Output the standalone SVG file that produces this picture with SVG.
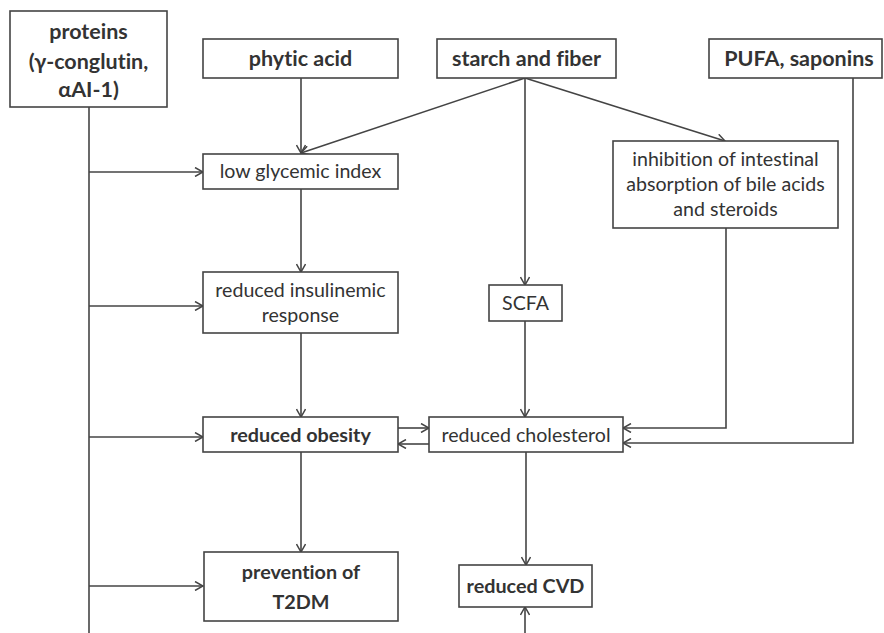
<svg xmlns="http://www.w3.org/2000/svg" width="884" height="633" viewBox="0 0 884 633">
<style>
.box{fill:#fff;stroke:#444;stroke-width:1.6}
.t{font-family:Lato,"Liberation Sans",sans-serif;font-size:19.6px;fill:#333;text-anchor:middle;font-variant-ligatures:none}
.b{font-weight:bold;font-size:21.5px}
.b2{font-weight:bold;font-size:19.8px}
.c{fill:none;stroke:#444;stroke-width:1.6}
</style>
<defs>
<marker id="ah" viewBox="0 0 10 10" refX="9" refY="5" markerWidth="10" markerHeight="10" markerUnits="userSpaceOnUse" orient="auto">
<path d="M1,0.5 L9,5 L1,9.5" fill="none" stroke="#444" stroke-width="1.5"/>
</marker>
</defs>
<rect width="884" height="633" fill="#fff"/>
<g id="connectors">
<path class="c" d="M89,107 V633"/>
<path class="c" d="M89,172 H203" marker-end="url(#ah)"/>
<path class="c" d="M89,306 H203" marker-end="url(#ah)"/>
<path class="c" d="M89,437 H203" marker-end="url(#ah)"/>
<path class="c" d="M89,586 H203" marker-end="url(#ah)"/>
<path class="c" d="M301,78 V153" marker-end="url(#ah)"/>
<path class="c" d="M525,78 L301,153" marker-end="url(#ah)"/>
<path class="c" d="M525,78 V285" marker-end="url(#ah)"/>
<path class="c" d="M525,78 L725,141" marker-end="url(#ah)"/>
<path class="c" d="M301,189 V272" marker-end="url(#ah)"/>
<path class="c" d="M301,333 V417" marker-end="url(#ah)"/>
<path class="c" d="M301,452 V552" marker-end="url(#ah)"/>
<path class="c" d="M525,321 V417" marker-end="url(#ah)"/>
<path class="c" d="M726,228 V428 H623" marker-end="url(#ah)"/>
<path class="c" d="M853,78 V443 H623" marker-end="url(#ah)"/>
<path class="c" d="M398,428 H429" marker-end="url(#ah)"/>
<path class="c" d="M429,444 H398" marker-end="url(#ah)"/>
<path class="c" d="M526,452 V565" marker-end="url(#ah)"/>
<path class="c" d="M525,633 V607" marker-end="url(#ah)"/>
</g>
<g id="proteins">
<rect class="box" x="10" y="11" width="157" height="96"/>
<text class="t b" x="88.5" y="39">proteins</text>
<text class="t b" x="88.5" y="69">(γ-conglutin,</text>
<text class="t b" x="88.5" y="97">αAI-1)</text>
</g>
<g id="phytic">
<rect class="box" x="203" y="39" width="195" height="39"/>
<text class="t b" x="300.5" y="66">phytic acid</text>
</g>
<g id="starch">
<rect class="box" x="437" y="39" width="179" height="39"/>
<text class="t b" x="526.5" y="66">starch and fiber</text>
</g>
<g id="pufa">
<rect class="box" x="709" y="39" width="173" height="39"/>
<text class="t b" x="799" y="66">PUFA, saponins</text>
</g>
<g id="lgi">
<rect class="box" x="203" y="154" width="195" height="35"/>
<text class="t" x="300.5" y="178">low glycemic index</text>
</g>
<g id="inhibition">
<rect class="box" x="613" y="141" width="225" height="87"/>
<text class="t" x="725.5" y="166">inhibition of intestinal</text>
<text class="t" x="725.5" y="191">absorption of bile acids</text>
<text class="t" x="725.5" y="216">and steroids</text>
</g>
<g id="insulinemic">
<rect class="box" x="203" y="272" width="195" height="61"/>
<text class="t" x="300.5" y="297">reduced insulinemic</text>
<text class="t" x="300.5" y="322">response</text>
</g>
<g id="scfa">
<rect class="box" x="489" y="285" width="73" height="36"/>
<text class="t" x="525.5" y="310">SCFA</text>
</g>
<g id="obesity">
<rect class="box" x="203" y="417" width="195" height="35"/>
<text class="t b2" x="300.5" y="442">reduced obesity</text>
</g>
<g id="cholesterol">
<rect class="box" x="429" y="417" width="194" height="35"/>
<text class="t" x="526" y="442">reduced cholesterol</text>
</g>
<g id="t2dm">
<rect class="box" x="204" y="552" width="194" height="69"/>
<text class="t b2" x="301" y="579">prevention of</text>
<text class="t b2" x="301" y="609">T2DM</text>
</g>
<g id="cvd">
<rect class="box" x="459" y="565" width="133" height="42"/>
<text class="t b2" x="525.5" y="593">reduced CVD</text>
</g>
</svg>
